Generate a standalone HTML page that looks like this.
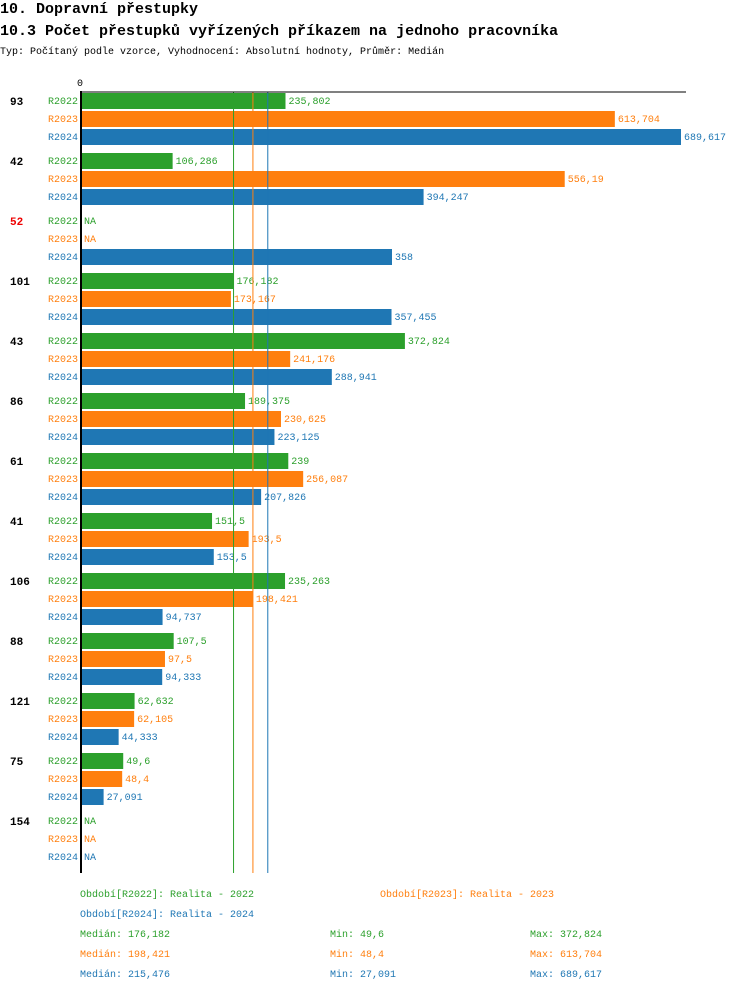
<!DOCTYPE html>
<html><head><meta charset="utf-8"><style>
body{margin:0;background:#fff;width:750px;height:992px;overflow:hidden;font-family:"Liberation Mono","DejaVu Sans Mono",monospace;}
svg text{font-family:"Liberation Mono","DejaVu Sans Mono",monospace;}
</style></head><body>
<svg id="chart" width="750" height="992">
<text x="0" y="13" font-size="15" font-weight="bold">10. Dopravní přestupky</text>
<text x="0" y="35" font-size="15" font-weight="bold">10.3 Počet přestupků vyřízených příkazem na jednoho pracovníka</text>
<text x="0" y="54" font-size="10">Typ: Počítaný podle vzorce, Vyhodnocení: Absolutní hodnoty, Průměr: Medián</text>
<text x="80" y="86" font-size="10" text-anchor="middle">0</text>
<g id="plot"></g>
<g id="footer"></g>
</svg>
<script>
const categories=["93","42","52","101","43","86","61","41","106","88","121","75","154"];
const highlighted=["52"];
const seriesNames=["R2022","R2023","R2024"];
const s2022=[235.802,106.286,null,176.182,372.824,189.375,239,151.5,235.263,107.5,62.632,49.6,null];
const s2023=[613.704,556.19,null,173.167,241.176,230.625,256.087,193.5,198.421,97.5,62.105,48.4,null];
const s2024=[689.617,394.247,358,357.455,288.941,223.125,207.826,153.5,94.737,94.333,44.333,27.091,null];
const medians=[176.182,198.421,215.476];
const mins=["49,6","48,4","27,091"];
const maxs=["372,824","613,704","689,617"];
const colors=["#2ca02c","#ff7f0e","#1f77b4"];
const NS="http://www.w3.org/2000/svg";
const x0=80,scale=601/689.617;
const xs=v=>x0+v*scale;
const gTop=93,gStep=60,rStep=18,bh=16;
const plot=document.getElementById('plot');
function mk(tag,attrs,parent,txt){const e=document.createElementNS(NS,tag);for(const k in attrs)e.setAttribute(k,attrs[k]);if(txt!==undefined)e.textContent=txt;parent.appendChild(e);return e;}
function fmt(v){return String(+v.toFixed(3)).replace('.',',');}
const series=[s2022,s2023,s2024];
categories.forEach((c,i)=>{
  const gy=gTop+i*gStep;
  const lab=mk('text',{x:10,y:gy+12,'font-size':11,'font-weight':'bold',fill:highlighted.includes(c)?'#e00':'#000'},plot,c);
  
  
  series.forEach((s,j)=>{
    const y=gy+j*rStep;
    const sl=mk('text',{x:78,y:y+11,'font-size':10,'text-anchor':'end',fill:colors[j]},plot,seriesNames[j]);
    
    
    const v=s[i];
    if(v===null){
      const na=mk('text',{x:84,y:y+11,'font-size':10,fill:colors[j]},plot,'NA');
      
      
      return;
    }
    const b=mk('rect',{x:x0,y:y,width:xs(v)-x0,height:bh,fill:colors[j]},plot);
    
    
    const vl=mk('text',{x:xs(v)+3,y:y+11,'font-size':10,fill:colors[j]},plot,fmt(v));
    
    
  });
});
medians.forEach((m,j)=>{
  const l=mk('line',{x1:xs(m),x2:xs(m),y1:92,y2:873,stroke:colors[j],'stroke-width':1},plot);
  
  
});
const ax=mk('line',{x1:80,x2:686,y1:92,y2:92,stroke:'#000','stroke-width':1},plot);


const ay=mk('line',{x1:81,x2:81,y1:91,y2:873,stroke:'#000','stroke-width':2},plot);


const ft=document.getElementById('footer');
const leg=[[80,897,"Období[R2022]: Realita - 2022"],[380,897,"Období[R2023]: Realita - 2023"],[80,917,"Období[R2024]: Realita - 2024"]];
leg.forEach((l,j)=>{
  const t=mk('text',{x:l[0],y:l[1],'font-size':10,fill:colors[j]},ft,l[2]);
  
  
});
medians.forEach((m,j)=>{
  const y=937+j*20;
  const a=mk('text',{x:80,y:y,'font-size':10,fill:colors[j]},ft,'Medián: '+fmt(m));
  
  
  const b=mk('text',{x:330,y:y,'font-size':10,fill:colors[j]},ft,'Min: '+mins[j]);
  
  
  const c=mk('text',{x:530,y:y,'font-size':10,fill:colors[j]},ft,'Max: '+maxs[j]);
  
  
});
</script>
</body></html>
